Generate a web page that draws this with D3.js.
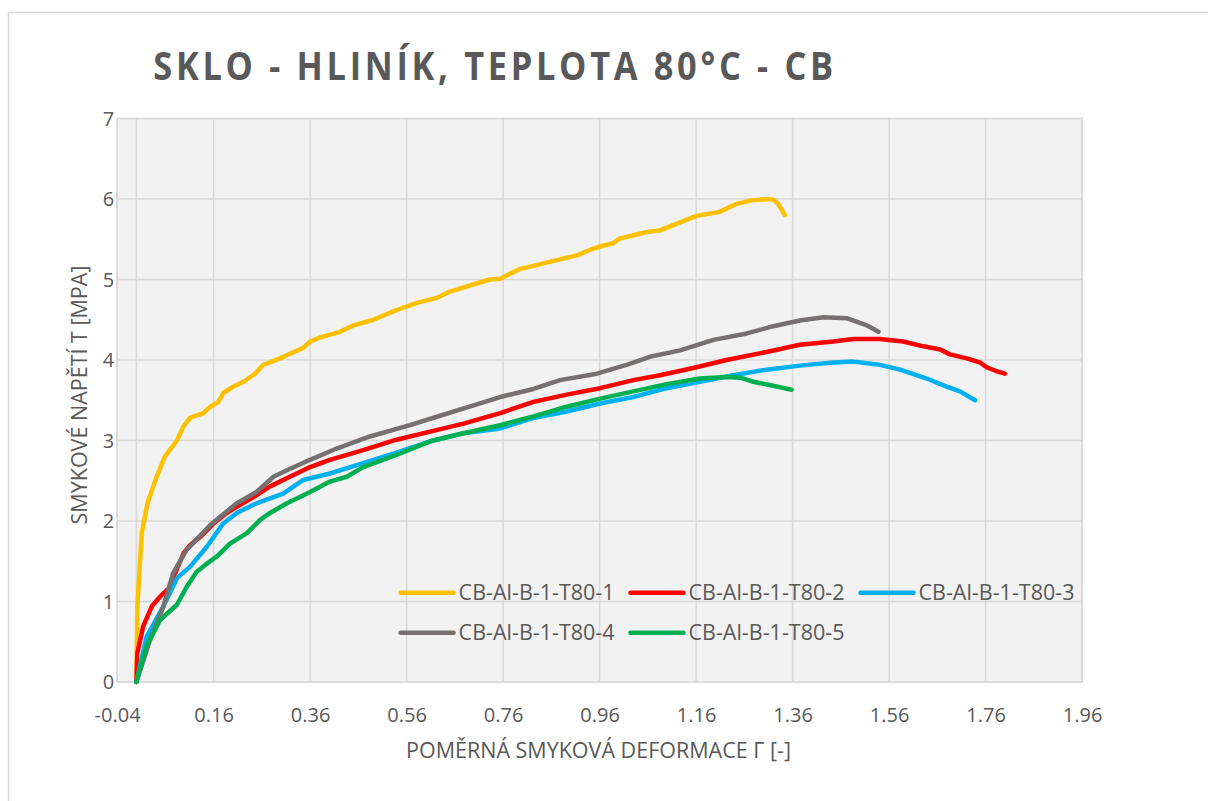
<!DOCTYPE html>
<html><head><meta charset="utf-8">
<script src="https://cdn.jsdelivr.net/npm/d3@7"></script>
<style>
html,body{margin:0;padding:0;background:#fff;}
svg text{font-family:"Open Sans","Liberation Sans",sans-serif;fill:#595959;}
</style></head>
<body><svg id="c" width="1208" height="801"></svg>
<script>
// ---- data ----
const title = "SKLO - HLINÍK, TEPLOTA 80°C - CB";
const xTitle = "POMĚRNÁ SMYKOVÁ DEFORMACE Γ [-]";
const yTitle = "SMYKOVÉ NAPĚTÍ Τ [MPA]";
const xTickValues = [-0.04,0.16,0.36,0.56,0.76,0.96,1.16,1.36,1.56,1.76,1.96];
const xTickLabels = ["-0.04","0.16","0.36","0.56","0.76","0.96","1.16","1.36","1.56","1.76","1.96"];
const yTickValues = [0,1,2,3,4,5,6,7];
const seriesNames = ["CB-Al-B-1-T80-1","CB-Al-B-1-T80-2","CB-Al-B-1-T80-3","CB-Al-B-1-T80-4","CB-Al-B-1-T80-5"];
const seriesColors = ["#FFC000","#FF0000","#00B0F0","#767171","#00B050"];

const s1 = [[0,0],[0.002,0.94],[0.011,1.85],[0.023,2.22],[0.035,2.43],[0.042,2.55],[0.059,2.8],[0.084,3.0],[0.097,3.17],[0.111,3.28],[0.139,3.34],[0.153,3.42],[0.170,3.48],[0.180,3.59],[0.201,3.67],[0.222,3.73],[0.246,3.83],[0.263,3.94],[0.298,4.02],[0.319,4.08],[0.346,4.15],[0.360,4.23],[0.381,4.28],[0.422,4.35],[0.450,4.43],[0.491,4.50],[0.539,4.62],[0.581,4.71],[0.622,4.77],[0.650,4.85],[0.705,4.95],[0.733,5.0],[0.754,5.01],[0.774,5.07],[0.795,5.13],[0.823,5.17],[0.871,5.24],[0.913,5.30],[0.941,5.37],[0.961,5.41],[0.988,5.45],[1.002,5.51],[1.030,5.55],[1.058,5.59],[1.085,5.61],[1.106,5.66],[1.140,5.74],[1.161,5.79],[1.209,5.84],[1.230,5.90],[1.244,5.94],[1.272,5.98],[1.306,6.0],[1.320,5.99],[1.330,5.94],[1.344,5.80]];
const s2 = [[0,0],[0.002,0.36],[0.014,0.69],[0.032,0.94],[0.049,1.06],[0.070,1.18],[0.080,1.35],[0.098,1.60],[0.111,1.70],[0.132,1.80],[0.160,1.97],[0.187,2.10],[0.215,2.20],[0.249,2.32],[0.277,2.43],[0.318,2.55],[0.360,2.67],[0.401,2.76],[0.470,2.88],[0.539,3.01],[0.609,3.11],[0.678,3.21],[0.754,3.34],[0.823,3.48],[0.892,3.57],[0.961,3.65],[1.030,3.75],[1.085,3.81],[1.154,3.90],[1.223,4.0],[1.306,4.10],[1.375,4.19],[1.444,4.23],[1.486,4.26],[1.541,4.26],[1.589,4.23],[1.631,4.17],[1.666,4.13],[1.686,4.07],[1.721,4.02],[1.748,3.97],[1.762,3.91],[1.783,3.86],[1.800,3.83]];
const s3 = [[0,0],[0.021,0.56],[0.056,0.94],[0.084,1.29],[0.111,1.43],[0.146,1.68],[0.180,1.97],[0.208,2.10],[0.249,2.22],[0.304,2.34],[0.346,2.51],[0.401,2.59],[0.470,2.72],[0.539,2.85],[0.609,2.99],[0.678,3.09],[0.754,3.15],[0.823,3.28],[0.892,3.36],[0.961,3.46],[1.030,3.54],[1.099,3.65],[1.168,3.73],[1.237,3.81],[1.306,3.88],[1.375,3.93],[1.444,3.97],[1.486,3.98],[1.541,3.94],[1.583,3.88],[1.638,3.77],[1.679,3.67],[1.707,3.61],[1.738,3.50]];
const s4 = [[0,0],[0.028,0.52],[0.056,0.94],[0.076,1.35],[0.104,1.64],[0.153,1.95],[0.208,2.22],[0.249,2.36],[0.284,2.55],[0.312,2.63],[0.360,2.76],[0.415,2.90],[0.484,3.05],[0.567,3.19],[0.636,3.32],[0.712,3.46],[0.754,3.54],[0.823,3.64],[0.878,3.75],[0.954,3.83],[1.016,3.94],[1.064,4.04],[1.127,4.12],[1.196,4.25],[1.265,4.33],[1.320,4.42],[1.375,4.49],[1.424,4.53],[1.472,4.52],[1.514,4.43],[1.538,4.35]];
const s5 = [[0,0],[0.021,0.44],[0.049,0.77],[0.084,0.96],[0.104,1.18],[0.125,1.37],[0.146,1.47],[0.167,1.56],[0.194,1.72],[0.229,1.85],[0.256,2.01],[0.277,2.10],[0.312,2.22],[0.360,2.36],[0.401,2.49],[0.436,2.55],[0.470,2.67],[0.539,2.82],[0.609,2.99],[0.678,3.09],[0.754,3.19],[0.823,3.30],[0.892,3.42],[0.961,3.52],[1.030,3.61],[1.099,3.70],[1.168,3.77],[1.223,3.79],[1.251,3.78],[1.279,3.73],[1.327,3.67],[1.358,3.63]];
const seriesData = [s1,s2,s3,s4,s5];

// ---- layout ----
const svg = d3.select("#c");
const L = 117.1, R = 1082.1, T = 118.5, B = 682;
const x = d3.scaleLinear().domain([-0.04,1.96]).range([L,R]);
const y = d3.scaleLinear().domain([0,7]).range([B,T]);
const grid = "#D9D9D9", txt = "#595959";

// chart border
svg.append("path").attr("d","M8.5,801 L8.5,12.5 L1208,12.5").attr("fill","none").attr("stroke",grid).attr("stroke-width",1.5);

// plot area
svg.append("rect").attr("x",L).attr("y",T).attr("width",R-L).attr("height",B-T).attr("fill","#F2F2F2");

// gridlines
svg.append("g").selectAll("line").data(yTickValues).join("line")
  .attr("x1",L).attr("x2",R).attr("y1",d=>y(d)).attr("y2",d=>y(d)).attr("stroke",grid).attr("stroke-width",1.5);
svg.append("g").selectAll("line").data(xTickValues).join("line")
  .attr("x1",d=>x(d)).attr("x2",d=>x(d)).attr("y1",T).attr("y2",B).attr("stroke",grid).attr("stroke-width",1.5);
// vertical axis at x=0
svg.append("line").attr("x1",x(0)).attr("x2",x(0)).attr("y1",T).attr("y2",B).attr("stroke",grid).attr("stroke-width",1.5);
svg.append("rect").attr("x",L).attr("y",T).attr("width",R-L).attr("height",B-T).attr("fill","none").attr("stroke",grid).attr("stroke-width",1.5);

// axes
const xAxis = d3.axisBottom(x).tickValues(xTickValues).tickFormat((d,i)=>xTickLabels[i]).tickSize(0).tickPadding(26);
const gx = svg.append("g").attr("transform",`translate(0,${B})`).call(xAxis);
gx.select(".domain").remove();
gx.selectAll("text").attr("font-size",20).style("fill",txt).attr("font-family",null);

const yAxis = d3.axisLeft(y).tickValues(yTickValues).tickFormat(d3.format("d")).tickSize(0).tickPadding(3);
const gy = svg.append("g").attr("transform",`translate(${L},0)`).call(yAxis);
gy.select(".domain").remove();
gy.selectAll("text").attr("font-size",20).style("fill",txt).attr("font-family",null).attr("dy","0.34em");

// lines
const line = d3.line().x(d=>x(d[0])).y(d=>y(d[1]));
svg.append("g").selectAll("path").data(seriesData).join("path")
  .attr("d",line).attr("fill","none").attr("stroke",(d,i)=>seriesColors[i])
  .attr("stroke-width",4.5).attr("stroke-linejoin","round").attr("stroke-linecap","round");

// legend
const legPos = [[400.6,592.7],[630.5,592.7],[860.5,592.7],[400.6,632.7],[630.5,632.7]];
const lg = svg.append("g").selectAll("g").data(seriesNames).join("g")
  .attr("transform",(d,i)=>`translate(${legPos[i][0]},${legPos[i][1]})`);
lg.append("line").attr("x1",0).attr("x2",53).attr("y1",0).attr("y2",0)
  .attr("stroke",(d,i)=>seriesColors[i]).attr("stroke-width",4.5).attr("stroke-linecap","round");
lg.append("text").attr("x",58).attr("y",0).attr("dy","0.35em").attr("font-size",21.5).text(d=>d);

// axis titles
svg.append("text").attr("x",(410+787)/2).attr("y",758).attr("text-anchor","middle").attr("font-size",21.5).text(xTitle);
svg.append("text").attr("transform","translate(87,395) rotate(-90)").attr("text-anchor","middle").attr("font-size",21.5).text(yTitle);

// title
const tt = svg.append("text").attr("font-size",40).attr("font-weight",700).text(title);
const w0 = tt.node().getComputedTextLength();
const sx = 0.86;
const n = title.length;
const ls = (680/sx - w0)/(n-1);
tt.attr("letter-spacing",ls).attr("transform",`translate(153.3,80) scale(${sx},1)`);
</script></body></html>
